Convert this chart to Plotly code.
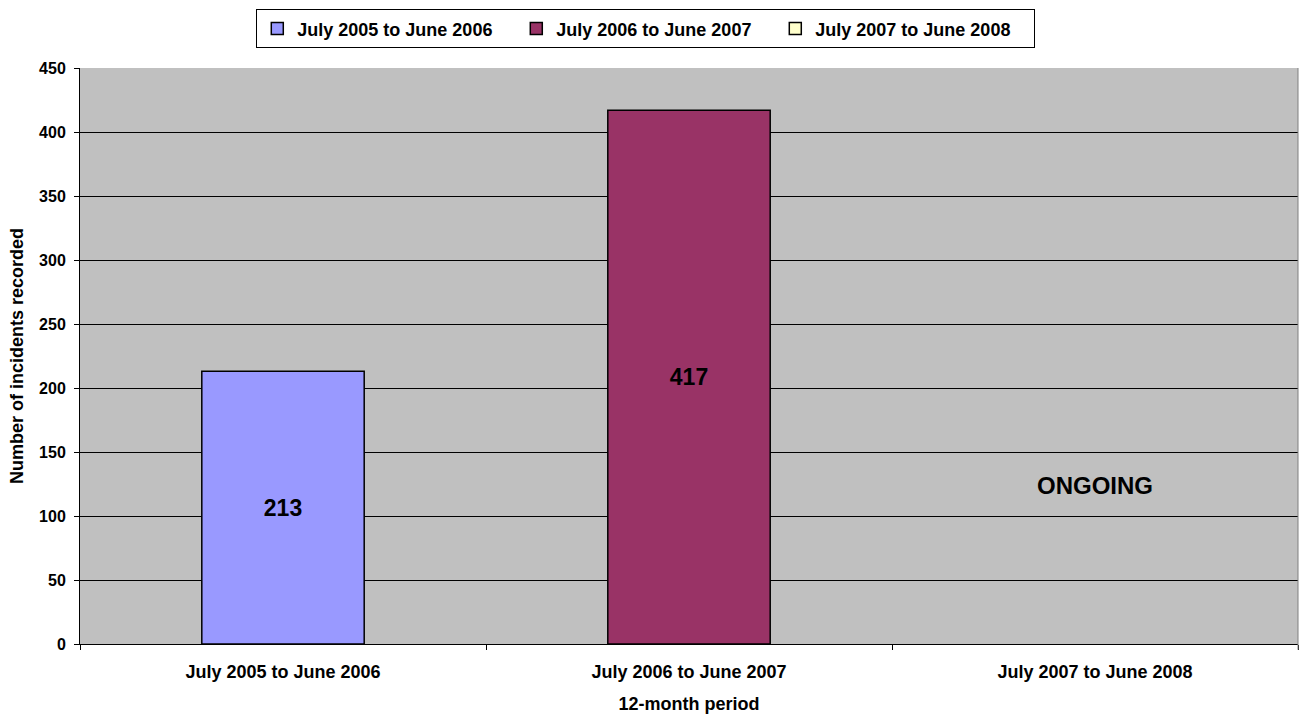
import plotly.graph_objects as go

categories = ["July 2005 to June 2006", "July 2006 to June 2007", "July 2007 to June 2008"]
values = [213, 417, None]
labels = ["213", "417", ""]
colors = ["#9999FF", "#993366", "#FFFFCC"]
ongoing_label = "ONGOING"
ongoing_y = 124

FONT = "Liberation Sans, Arial, sans-serif"

fig = go.Figure()
for i, cat in enumerate(categories):
    fig.add_trace(go.Bar(
        x=[cat], y=[values[i]], name=cat,
        marker=dict(color=colors[i], line=dict(color="black", width=1.5)),
        width=0.4,
        text=[labels[i]], textposition="inside", insidetextanchor="middle",
        textfont=dict(family=FONT, size=23, color="black", weight="bold"),
        textangle=0,
    ))

fig.add_annotation(x=categories[2], y=ongoing_y, text="<b>" + ongoing_label + "</b>",
                   showarrow=False, font=dict(family=FONT, size=24, color="black"))

fig.update_layout(
    width=1302, height=714,
    margin=dict(l=80, r=4, t=68, b=70),
    paper_bgcolor="white", plot_bgcolor="#C0C0C0",
    barmode="overlay",
    font=dict(family=FONT, size=18, color="black"),
    showlegend=True,
    legend=dict(orientation="h", x=0.496, xanchor="center", xref="container",
                y=0.987, yanchor="top", yref="container",
                bordercolor="black", borderwidth=1, bgcolor="white",
                font=dict(family=FONT, size=18, color="black", weight="bold"),
                itemwidth=30, entrywidth=214, entrywidthmode="pixels"),
    xaxis=dict(categoryorder="array", categoryarray=categories,
               tickson="boundaries", ticks="outside", ticklen=5, tickcolor="black",
               showline=True, linecolor="black", linewidth=1,
               showgrid=False, ticklabelstandoff=11,
               tickfont=dict(family=FONT, size=18, weight="bold"),
               title=dict(text="12-month period", font=dict(family=FONT, size=18, weight="bold"), standoff=16)),
    yaxis=dict(range=[0, 450], dtick=50, ticks="outside", ticklen=5, tickcolor="black",
               showline=True, linecolor="black", linewidth=1,
               showgrid=True, gridcolor="black", gridwidth=1,
               zeroline=False, ticklabelstandoff=5,
               tickfont=dict(family=FONT, size=16, weight="bold"),
               title=dict(text="Number of incidents recorded", font=dict(family=FONT, size=18, weight="bold"), standoff=10)),
)
fig.add_shape(type="line", xref="paper", yref="paper", x0=1, x1=1, y0=-0.01, y1=1,
              line=dict(color="#808080", width=1))

fig.write_html("out.html")
